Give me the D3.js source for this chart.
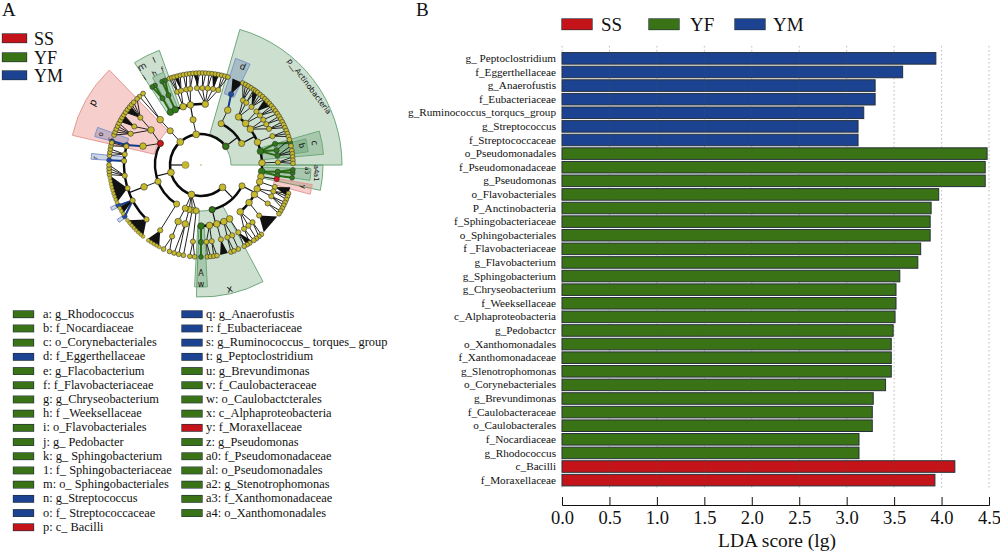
<!DOCTYPE html>
<html><head><meta charset="utf-8">
<script src="https://cdnjs.cloudflare.com/ajax/libs/d3/7.8.5/d3.min.js"></script>
<style>html,body{margin:0;background:#fff}svg{display:block}text{font-family:"Liberation Serif",serif;fill:#111}</style>
</head><body><svg id="c" width="1000" height="552"></svg>
<script>
const COLORS={SS:"#c4141a",YF:"#3a7316",YM:"#1b4391"};
const groupNames=["SS","YF","YM"];
const barLabels=["g_ Peptoclostridium","f_Eggerthellaceae","g_Anaerofustis","f_Eubacteriaceae","g_Ruminococcus_torqucs_group","g_Streptococcus","f_Streptococcaceae","o_Pseudomonadales","f_Pseudomonadaceae","g_Pseudomonas","o_Flavobacteriales","P_Anctinobacteria","f_Sphingobacteriaceae","o_Sphingobacteriales","f _Flavobacteriaceae","g_Flavobacterium","g_Sphingobacterium","g_Chryseobacterium","f_Weeksellaceae","c_Alphaproteobacteria","g_Pedobactcr","o_Xanthomonadales","f_Xanthomonadaceae","g_Slenotrophomonas","o_Corynebacteriales","g_Brevundimonas","f_Caulobacteraceae","o_Caulobacterales","f_Nocardiaceae","g_Rhodococcus","c_Bacilli","f_Moraxellaceae"];
const barValues=[3.94,3.59,3.30,3.30,3.18,3.12,3.12,4.48,4.46,4.46,3.97,3.89,3.88,3.88,3.78,3.75,3.56,3.52,3.52,3.51,3.49,3.47,3.47,3.47,3.41,3.28,3.27,3.27,3.13,3.13,4.14,3.93];
const barGroups=["YM","YM","YM","YM","YM","YM","YM","YF","YF","YF","YF","YF","YF","YF","YF","YF","YF","YF","YF","YF","YF","YF","YF","YF","YF","YF","YF","YF","YF","YF","SS","SS"];
const xTicks=[0,0.5,1,1.5,2,2.5,3,3.5,4,4.5];
const keyCol1=[["a: g_Rhodococcus","YF"],["b: f_Nocardiaceae","YF"],["c: o_Corynebacteriales","YF"],["d: f_Eggerthellaceae","YM"],["e: g_Flacobacterium","YF"],["f: f_Flavobacteriaceae","YF"],["g: g_Chryseobacterium","YF"],["h: f _Weeksellaceae","YF"],["i: o_Flavobacteriales","YF"],["j: g_ Pedobacter","YF"],["k: g_ Sphingobacterium","YF"],["1: f_ Sphingobacteriaceae","YF"],["m: o_ Sphingobacteriales","YF"],["n: g_Streptococcus","YM"],["o: f_ Streptococcaceae","YM"],["p: c_ Bacilli","SS"]];
const keyCol2=[["q: g_Anaerofustis","YM"],["r: f_Eubacteriaceae","YM"],["s: g_Ruminococcus_ torques_ group","YM"],["t: g_Peptoclostridium","YM"],["u: g_Brevundimonas","YF"],["v: f_Caulobacteraceae","YF"],["w: o_Caulobactcterales","YF"],["x: c_Alphaproteobacteria","YF"],["y: f_Moraxellaceae","SS"],["z: g_Pseudomonas","YF"],["a0: f_Pseudomonadaceae","YF"],["al: o_Pseudomonadales","YF"],["a2: g_Stenotrophomonas","YF"],["a3: f_Xanthomonadaceae","YF"],["a4: o_Xanthomonadales","YF"]];

/* Cladogram. Angles in degrees clockwise from north. */
const ringRadii=[16,31,46,61,77,92];
const sectors=[[16,90,30,141,"YF"],[283,316,48,132,"SS"],[152,182,46,132,"YF"],[18,26,75,112,"YM"],[74,85,61,123,"YF"],[76,83,76,108,"YF"],[327,340,61,122,"YF"],[331,338,61,100,"YF"],[177,183,61,122,"YF"],[90,102,61,122,"YF"],[92,98,61,110,"YF"],[100,105,75,113,"SS"],[285,290,77,110,"YM"],[273,276,77,110,"YM"],[243,245,92,100,"YM"],[235,237,92,100,"YM"]];
const sectorLabels=[["p__Actinobacteria",54,134,7.6,53],["p",300,125,10,0],["x",167,127,10,0],["d",23,107,9,0],["c",79,116,9,0],["b",79,103,8,0],["m",329,115,9,0],["l",336,115,8,0],["i",327,104,8,0],["h",333,103,7,0],["f",338,103,7,0],["A",180,108,8,0],["w",180,119,8,0],["a1",96,116,7,90],["a4",92,116,7,90],["a3",93,106,6,90],["y",102,105,7,90],["o",287,105,7,0],["c",286,95,6,0],["r",274,106,7,0]];
/* parent level, parent angle, child level, child angles, group of the children, draw as arc */
const fans=[
[0,270,1,[136,198,256,318,351,53],null,1],
[1,351,2,[350],null,0],[2,350,3,[330,335,343,350,4],"arcg",1],
[1,318,2,[318],null,0],[2,318,3,[318],null,0],
[3,318,5,[318,321],null,0],
[3,330,4,[330],"YF",0],[3,335,4,[335],"YF",0],[4,330,5,[330,328],"YF",0],[4,335,5,[335,337],"YF",0],
[3,343,4,[342,345],null,0],[4,342,5,[340,341.5,343],null,0],[4,345,5,[345,347],null,0],
[3,350,4,[349,352],null,0],[4,349,5,[349,351],null,0],[4,352,5,[353,355],null,0],
[3,4,4,[357,1,5,9,13],null,0],[4,357,5,[357,359],null,0],[4,1,5,[1,3],null,0],[4,5,5,[5,7],null,0],[4,9,5,[9,11],null,0],[4,13,5,[13,15,17],null,0],
[1,53,2,[26,62],"YF0",1],
[2,26,3,[26],null,0],[3,26,4,[23],"YM",0],
[2,62,3,[38,47,54,68,77,88,96,101],"arcg",1],
[3,38,4,[33,36,41],null,0],[4,33,5,[27,29,31,33],null,0],[4,36,5,[35,36.5],null,0],[4,41,5,[38,40,42,44],null,0],
[3,47,4,[46,50],null,0],[4,46,5,[46,48],null,0],[4,50,5,[50,52,54],null,0],
[3,54,4,[54,58,62],null,0],[4,54,5,[56],null,0],[4,58,5,[58,60],null,0],[4,62,5,[62,64,66],null,0],
[3,68,4,[68],null,0],[4,68,5,[68,70,72],null,0],
[3,77,4,[74,79,83],"YF",0],[4,74,5,[76],"YF",0],[4,79,5,[74],null,0],[4,83,5,[78,81,83],null,0],
[3,88,4,[88],null,0],[4,88,5,[85,87,89],null,0],
[3,96,4,[95,98],"YF",0],[3,101,4,[100.5],"SS",0],[4,95,5,[95,93],"YF",0],[4,98,5,[98],"YF",0],
[1,136,2,[117,166],null,1],
[2,117,3,[106,113,119,128,140],null,1],
[3,106,4,[106.6],null,0],
[3,113,4,[110,114],null,0],[4,110,5,[108,110,112],null,0],[4,114,5,[114,116,118],null,0],
[3,119,4,[120],null,0],[4,120,5,[120,122],null,0],
[3,128,4,[131],null,0],
[3,140,4,[138,142,146],null,0],[4,138,5,[139,141],null,0],[4,142,5,[143],null,0],[4,146,5,[145,148],null,0],
[2,166,3,[180,172,165,158,152],"arcx",1],
[3,180,4,[180],"YF",0],[4,180,5,[180],"YF",0],
[3,172,4,[176,172],null,0],[4,176,5,[176,174],null,0],[4,172,5,[172,170],null,0],
[3,165,4,[165],null,0],[3,158,4,[160,156],null,0],[4,160,5,[161,159],null,0],[4,156,5,[156],null,0],
[3,152,4,[151],null,0],[4,151,5,[150,152],null,0],
[1,198,2,[191,195,186,200],null,0],
[2,191,5,[191],null,0],[2,195,3,[195],null,0],[3,195,5,[194,197],null,0],[2,186,4,[186],null,0],[4,186,5,[184,187],null,0],[2,200,3,[202],null,0],[3,202,4,[202],null,0],[4,202,5,[200,204],null,0],
[1,256,2,[212,249,298],"arcl",1],
[2,298,3,[288,305],"SSp",0],
[3,288,4,[285],"YM",0],[4,285,5,[285],"YM",0],
[3,305,4,[294,300,308],null,0],[4,294,5,[289,291,293,295,297],null,0],[4,300,5,[299,301,303],null,0],[4,308,5,[305,307,309,311,313,316],null,0],
[2,212,4,[212],null,0],
[2,249,3,[249],null,0],[3,249,4,[225,242.6,252.5,262,273,278,284],"arcl4",1],
[4,273,5,[273],"YM",0],[4,278,5,[276,278,280],null,0],[4,284,5,[282,284],null,0],[4,262,5,[264,266,268,270],null,0],
[4,242.6,5,[244,236],"YM",0]
];
/* black wedges of unresolved tips: parent level, parent angle, first and last tip angle */
const wedges=[[4,252.5,246,263.6],[4,242.6,238,243],[4,225,219,233],[4,212,207,216],[4,131,124,137],[4,106.6,104,110],[4,165,163,168],[4,151,146,150],[4,23,20,27],[4,41,34,38],[4,46,44,50],[4,358,355,358],[4,345,343,346],[4,9,7,11],[4,300,298,303],[4,308,305,310]];
const wedgeTips=[207,209,211,213,215,219,221,223,225,227,229,231,233,238,240,242,246,248,250,252,254,256,258,260,262];

const svg=d3.select("#c");
const rect=(g,x,y,w,h,c)=>g.append("rect").attr("x",x).attr("y",y).attr("width",w).attr("height",h).attr("fill",c).attr("stroke","#24303a").attr("stroke-width",1.3).style("paint-order","stroke");
const txt=(x,y,s,size,anchor)=>svg.append("text").attr("x",x).attr("y",y).attr("font-size",size).attr("text-anchor",anchor||"start").text(s);

txt(2,16,"A",19);txt(416,16,"B",19);

/* legends */
groupNames.forEach((n,i)=>{const y=[34,53,71][i];rect(svg,2.5,y,24,8.5,COLORS[n]);txt(34,y+11,n,18);});
const bx=[562,649,735],btx=[601,690,773];
groupNames.forEach((n,i)=>{rect(svg,bx[i],19,30,10.5,COLORS[n]);txt(btx[i],31,n,19);});
const keyY=d3.scaleLinear().domain([0,15]).range([314,527]);
[[keyCol1,13.5,43],[keyCol2,182,206]].forEach(([col,rx,tx])=>col.forEach((d,i)=>{
  rect(svg,rx,keyY(i)-3,20,6.5,COLORS[d[1]]);txt(tx,keyY(i)+3.8,d[0],12.4);
}));

/* bar chart */
const x=d3.scaleLinear().domain([0,4.5]).range([562,989]);
const y=d3.scaleBand().domain(barLabels).range([51.5,487]).paddingInner(0.15).paddingOuter(0.08);
const plot=svg.append("g");
plot.selectAll("rect").data(barLabels).join("rect")
 .attr("x",x(0)).attr("y",d=>y(d)).attr("height",y.bandwidth())
 .attr("width",(d,i)=>x(barValues[i])-x(0))
 .attr("fill",(d,i)=>COLORS[barGroups[i]]).attr("stroke","#26303a").attr("stroke-width",1);
plot.selectAll("line").data(xTicks).join("line")
 .attr("x1",d=>x(d)).attr("x2",d=>x(d)).attr("y1",46).attr("y2",490)
 .attr("stroke","#555").attr("stroke-opacity",.5).attr("stroke-width",.8).attr("stroke-dasharray","1.5 2.5");
svg.selectAll("text.bl").data(barLabels).join("text").attr("class","bl")
 .attr("x",556).attr("y",d=>y(d)+y.bandwidth()/2+3.6).attr("text-anchor","end").attr("font-size",11.2).text(d=>d);
const ax=svg.append("g").attr("transform","translate(0,505)").call(d3.axisTop(x).tickValues(xTicks).tickFormat(d3.format(".1f")).tickSize(8).tickPadding(0));
ax.select(".domain").attr("stroke","#111");
ax.selectAll("line").attr("stroke","#111");
ax.selectAll("text").attr("y",19).attr("dy",0).attr("font-size",18.5).attr("font-family","Liberation Serif").style("dominant-baseline","auto");
txt(777,547,"LDA score (lg)",19.5,"middle");

/* cladogram */
const cg=svg.append("g").attr("transform","translate(201,165)");
const rad=d=>d*Math.PI/180;
const pol=(a,r)=>[r*Math.sin(rad(a)),-r*Math.cos(rad(a))];
cg.selectAll("path.sec").data(sectors).join("path").attr("class","sec")
 .attr("d",d=>d3.arc()({startAngle:rad(d[0]),endAngle:rad(d[1]),innerRadius:d[2],outerRadius:d[3]}))
 .attr("fill",d=>d[4]=="YF"?"#2f7d3c":d[4]=="SS"?"#d8362f":"#2d4f9e")
 .attr("fill-opacity",.24).attr("stroke",d=>d[4]=="YF"?"#6fa87c":d[4]=="SS"?"#e59a96":"#7f95cc").attr("stroke-width",1);
fans.forEach(f=>{
  const [pl,pa,cl,kids,g,arc]=f, pr=ringRadii[pl], cr=ringRadii[cl];
  const sw=arc?(pl==0?2.2:2):1;
  if(arc){
    const lo=Math.min(...kids.map(k=>k<pa-180?k+360:k)),hi=Math.max(...kids.map(k=>k<pa-180?k+360:k));
    cg.append("path").attr("d",d3.arc()({startAngle:rad(lo),endAngle:rad(hi),innerRadius:cr,outerRadius:cr})).attr("fill","none").attr("stroke","#0a0a0a").attr("stroke-width",sw+.4);
    const p=pol(pa,pr),q=pol(pa,cr);
    cg.append("line").attr("x1",p[0]).attr("y1",p[1]).attr("x2",q[0]).attr("y2",q[1]).attr("stroke","#111").attr("stroke-width",1.2);
  } else kids.forEach(k=>{
    const p=pol(pa,pr),q=pol(k,cr);
    cg.append("line").attr("x1",p[0]).attr("y1",p[1]).attr("x2",q[0]).attr("y2",q[1]).attr("stroke",g=="YF"?"#2a6a14":g=="YM"?"#123a8e":"#222").attr("stroke-width",g=="YF"||g=="YM"?2:1);
  });
});
wedges.forEach(w=>{
  const a=pol(w[1],ringRadii[w[0]]),b=pol(w[2],92),c=pol(w[3],92);
  cg.append("path").attr("d",d3.line()([a,b,c])+"Z").attr("fill","#111");
});
const OL="#c6ba2c";
const nodeFill=(g)=>g=="YF"?"#2f7a18":g=="YM"?"#1d49ad":g=="SS"?"#d8141c":OL;
const sizeByLevel=[4.6,3.4,3.1,3.3,2.6,2.4];
fans.forEach(f=>{
  const [pl,pa,cl,kids,g]=f;
  kids.forEach(k=>{
    let col=g;
    if(g=="arcg"&&(k==330||k==335||k==77||k==96))col="YF";
    if(g=="arcx"&&k==180)col="YF";
    const p=pol(k,ringRadii[cl]);
    cg.append("circle").attr("cx",p[0]).attr("cy",p[1]).attr("r",sizeByLevel[cl]).attr("fill",nodeFill(col=="YF"||col=="YM"||col=="SS"?col:null)).attr("stroke","#333").attr("stroke-width",.6);
  });
});
wedgeTips.forEach(a=>{const p=pol(a,92);cg.append("circle").attr("cx",p[0]).attr("cy",p[1]).attr("r",1.9).attr("fill",OL).attr("stroke","#444").attr("stroke-width",.4);});
/* coloured nodes and root drawn over the rest */
const accents=[[53,1,"YF"],[298,2,"SS"],[166,2,"YF"]];
accents.forEach(d=>{const p=pol(d[0],ringRadii[d[1]]);cg.append("circle").attr("cx",p[0]).attr("cy",p[1]).attr("r",2.9).attr("fill",nodeFill(d[2])).attr("stroke","#222").attr("stroke-width",.6);});
cg.append("circle").attr("cx",-15.5).attr("cy",0).attr("r",3.6).attr("fill",OL).attr("stroke","#555").attr("stroke-width",.4);
cg.append("circle").attr("cx",0).attr("cy",0).attr("r",.7).attr("fill","#9c9a22");
sectorLabels.forEach(d=>{
  const p=pol(d[1],d[2]);
  const rot=d[4]||(d[1]>90&&d[1]<270?d[1]-180:d[1]);
  cg.append("text").attr("transform",`translate(${p[0]},${p[1]}) rotate(${rot})`).attr("text-anchor","middle").attr("dy","0.35em")
   .attr("font-size",d[3]).style("font-family","DejaVu Sans").text(d[0]);
});
</script></body></html>
